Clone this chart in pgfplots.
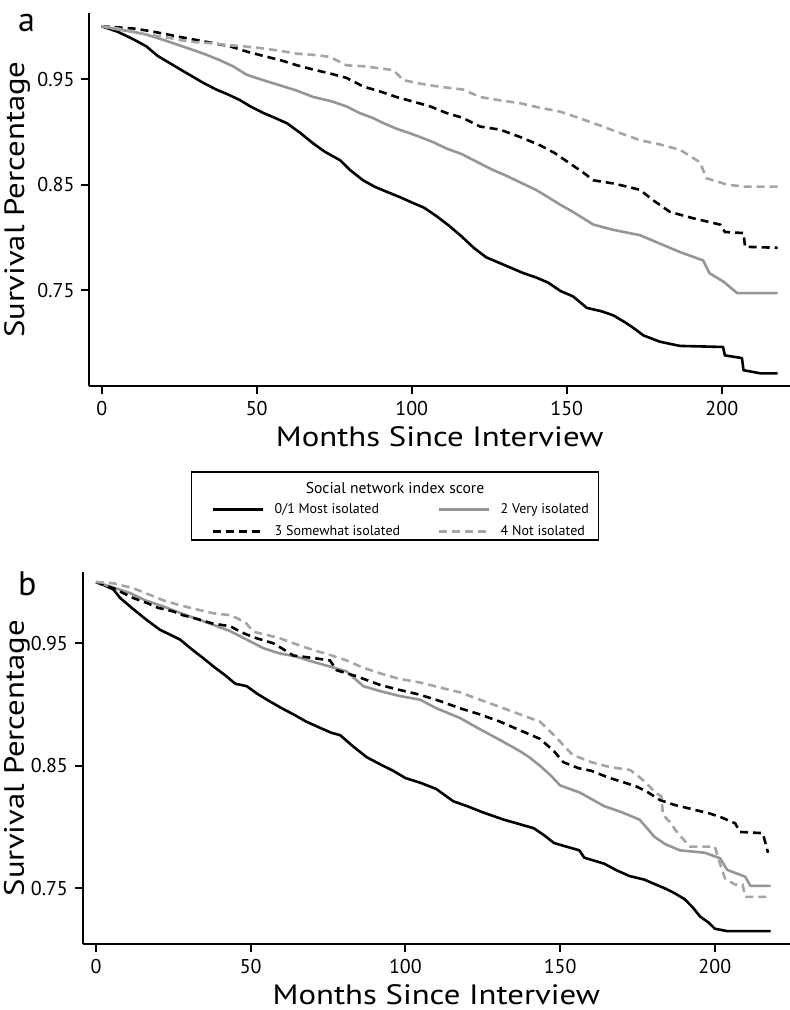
\documentclass[border=0pt]{standalone}
\usepackage{fontspec}
\setmainfont{PT Sans}
\newfontfamily\labfont[FakeStretch=1.17]{PT Sans}
\usepackage{pgfplots}
\pgfplotsset{compat=1.18}
\usepackage{pgfplotstable}

\definecolor{lgray}{RGB}{150,150,150}
\definecolor{dgray}{RGB}{165,165,165}

% ---------- Panel a ----------
\pgfplotstableread{
m v
0 1.000
5 0.995
10 0.988
14.4 0.981
18 0.972
22 0.965
26 0.958
29.5 0.952
33 0.946
37 0.940
41 0.935
44.6 0.930
48 0.924
52 0.918
56 0.913
59.8 0.908
64 0.899
68.2 0.889
72 0.881
76.9 0.873
80 0.864
84.3 0.854
88 0.848
92 0.843
96.2 0.838
100 0.833
104 0.828
108 0.820
112 0.811
116 0.801
120 0.790
124 0.781
128 0.776
132 0.771
136 0.766
140 0.762
144 0.757
148 0.749
152 0.744
156.5 0.733
161 0.730
165 0.726
169 0.719
172 0.713
174.7 0.707
180 0.701
186.5 0.697
200.4 0.696
201 0.688
206.5 0.6855
207 0.674
212.4 0.671
218 0.671
}\Aone

\pgfplotstableread{
m v
0 1.000
5 0.997
10 0.995
14.5 0.992
20 0.987
25 0.982
30 0.977
33.8 0.973
38 0.968
42.4 0.962
46.8 0.954
52 0.949
57.5 0.944
63 0.939
68.2 0.933
74 0.929
79 0.924
83 0.918
87.5 0.913
91 0.908
95 0.903
99 0.899
102.7 0.895
107 0.890
111.3 0.884
116 0.879
122 0.870
126 0.864
130 0.859
135 0.852
140 0.845
144 0.838
147.8 0.831
152 0.824
158.6 0.812
165 0.807
173.6 0.802
180 0.794
186.5 0.786
194 0.778
196 0.766
200.5 0.758
205 0.747
218 0.747
}\Atwo

\pgfplotstableread{
m v
0 1.000
5 0.999
10 0.998
14.5 0.996
20 0.993
25 0.990
30.6 0.987
36 0.984
41.4 0.981
46.8 0.976
52 0.972
57.5 0.968
63 0.963
68.2 0.959
74 0.955
79 0.951
84.3 0.943
90 0.938
95 0.933
100 0.929
106 0.924
111 0.918
116.6 0.913
122 0.905
128.5 0.902
135 0.895
141.5 0.887
146 0.880
150 0.872
155 0.862
158.6 0.854
165 0.851
169.4 0.848
173.6 0.845
177.9 0.835
183.3 0.824
190.8 0.818
199.5 0.812
201 0.805
207 0.804
207.5 0.791
218 0.790
}\Athree

\pgfplotstableread{
m v
0 1.000
5 0.998
9.2 0.995
15 0.992
20 0.990
25.2 0.987
30 0.985
35 0.984
41.4 0.982
46 0.981
52 0.979
57 0.977
62.9 0.974
68 0.973
73.6 0.971
79 0.963
85 0.962
90 0.960
94 0.9585
97.3 0.949
102 0.946
106 0.944
111 0.942
116.6 0.940
122 0.933
128 0.930
135 0.927
141 0.923
148 0.919
154 0.913
160.7 0.906
167 0.899
173.6 0.892
180 0.888
186.5 0.883
193 0.871
195 0.856
201.6 0.850
207 0.848
218 0.848
}\Afour

% ---------- Panel b ----------
\pgfplotstableread{
m v
0 1.000
3 0.997
5.6 0.994
7.8 0.987
12 0.978
16.4 0.969
20.7 0.961
24 0.957
27.2 0.953
31 0.945
34.6 0.938
38 0.931
42.2 0.923
45 0.917
48.7 0.915
52 0.909
55.2 0.904
60 0.897
63.8 0.892
68 0.886
72.4 0.881
76 0.877
78.9 0.875
83 0.866
87.5 0.857
92 0.851
96 0.846
100 0.840
105 0.836
110 0.831
115.5 0.821
120 0.817
125 0.812
131.8 0.806
136 0.803
141.5 0.799
145 0.793
148 0.787
152 0.784
156.2 0.781
157.8 0.775
164.3 0.770
168 0.765
172.4 0.760
177.3 0.757
180 0.754
183.8 0.750
187 0.746
190.3 0.741
193 0.734
195.2 0.727
198 0.722
200 0.717
204 0.715
218 0.715
}\Bone

\pgfplotstableread{
m v
0 1.000
5 0.996
11 0.991
16 0.985
21.8 0.980
27 0.975
32.5 0.970
38 0.965
43.3 0.960
48.7 0.953
54.1 0.946
59 0.942
64.9 0.939
70 0.935
75.6 0.931
81 0.927
86.4 0.915
91.8 0.911
98 0.907
104.7 0.904
110 0.897
117.6 0.889
124 0.880
130.6 0.871
137 0.862
140 0.857
143.5 0.850
147 0.842
150 0.834
156.5 0.828
160 0.823
164.3 0.817
170 0.812
175.7 0.806
180.5 0.792
184 0.786
188.7 0.781
196.8 0.779
201.7 0.7745
204 0.765
209.8 0.7595
211.5 0.752
218 0.752
}\Btwo

\pgfplotstableread{
m v
0 1.000
5.6 0.995
8.8 0.991
12 0.987
16.4 0.983
20 0.979
25 0.976
28 0.973
32.5 0.970
37.9 0.966
43.3 0.964
47 0.959
50.8 0.955
57.3 0.950
60 0.946
63.8 0.940
70.2 0.938
75.6 0.936
77.8 0.928
84.3 0.923
91.8 0.916
98 0.912
104.7 0.908
111 0.903
117.6 0.897
124 0.892
130.6 0.886
137 0.879
143.5 0.872
148 0.862
151 0.853
156 0.848
160 0.846
166 0.840
170 0.837
174.7 0.833
178 0.829
182.3 0.822
187 0.818
192 0.815
198.4 0.811
202 0.808
206.6 0.803
208.1 0.796
215.5 0.795
217.2 0.779
}\Bthree

\pgfplotstableread{
m v
0 1.000
5.6 0.999
12 0.995
17 0.990
21.8 0.985
27.2 0.981
32 0.978
37.9 0.9745
43.3 0.973
46 0.970
48.7 0.966
50.8 0.9595
55 0.957
59.5 0.954
65 0.949
70.2 0.9445
75 0.941
81 0.936
86.4 0.930
91.8 0.9255
98 0.921
104.7 0.918
111 0.914
117.6 0.910
124 0.904
130.6 0.898
137 0.892
143.5 0.886
148 0.875
151 0.867
154 0.859
160 0.853
166 0.849
172.6 0.8466
176 0.840
181.2 0.8275
182.8 0.8248
183.2 0.810
185.5 0.804
188 0.795
192 0.784
200 0.784
201.7 0.770
203.3 0.758
206.5 0.753
209 0.753
209.8 0.743
218 0.743
}\Bfour

\pgfplotsset{
  kmstyle/.style={
    scale only axis,
    axis x line=bottom, axis y line=left,
    axis line style={-, line width=1pt},
    major tick style={line width=1pt, black},
    major tick length=3.9pt,
    tick align=outside,
    xtick={0,50,100,150,200},
    ytick={0.75,0.85,0.95},
    yticklabels={0.75,0.85,0.95},
    /pgf/number format/assume math mode=true,
    tick label style={font=\fontsize{10}{12}\selectfont},
    label style={font=\labfont\fontsize{14}{16}\selectfont, inner sep=0pt},
    ylabel={Survival Percentage},
    xlabel={Months Since Interview},
    clip=false,
  },
  blk/.style={black, line width=1.3pt, line join=round},
  gry/.style={lgray, line width=1.3pt, line join=round},
  blkd/.style={black, line width=1.3pt, dash pattern=on 4pt off 2.5pt},
  gryd/.style={dgray, line width=1.3pt, dash pattern=on 4pt off 2.5pt},
}

\begin{document}
\begin{tikzpicture}
\path[use as bounding box] (0pt,0pt) rectangle (395pt,-505pt);

% Panel a
\begin{axis}[kmstyle,
  at={(44.65pt,-193pt)}, anchor=south west,
  width=350.35pt, height=186.5pt,
  xmin=-4, xmax=222, ymin=0.659, ymax=1.0126,
  xlabel style={at={(axis description cs:0.5,-0.161)}, anchor=base},
  ylabel style={at={(axis description cs:-0.103,0.5)}, anchor=center},
  legend columns=2,
  legend cell align=left,
  legend style={at={(axis description cs:0.1747,-0.302)}, anchor=north west,
    draw=none, fill=none, inner sep=0pt,
    font=\fontsize{7}{8}\selectfont, row sep=0.6pt,
    /tikz/every even column/.append style={column sep=17pt}},
  legend image code/.code={\draw[#1] (0pt,0pt) -- (25pt,0pt); \path (28pt,0pt);},
]
\addplot[blk] table[x=m,y=v] {\Aone};
\addlegendentry{0/1 Most isolated}
\addplot[gry] table[x=m,y=v] {\Atwo};
\addlegendentry{2 Very isolated}
\addplot[blkd] table[x=m,y=v] {\Athree};
\addlegendentry{3 Somewhat isolated}
\addplot[gryd] table[x=m,y=v] {\Afour};
\addlegendentry{4 Not isolated}
\end{axis}

% legend frame and title
\draw[line width=0.7pt] (95.75pt,-236pt) rectangle (299.25pt,-270pt);
\node[font=\fontsize{7.8}{9}\selectfont, anchor=center] at (197.5pt,-244pt) {Social network index score};

% Panel b
\begin{axis}[kmstyle,
  at={(41.35pt,-472pt)}, anchor=south west,
  width=353.65pt, height=186pt,
  xmin=-4.3, xmax=224.3, ymin=0.7045, ymax=1.0082,
  xlabel style={at={(axis description cs:0.5,-0.162)}, anchor=base},
  ylabel style={at={(axis description cs:-0.093,0.5)}, anchor=center},
]
\addplot[blk] table[x=m,y=v] {\Bone};
\addplot[gry] table[x=m,y=v] {\Btwo};
\addplot[blkd] table[x=m,y=v] {\Bthree};
\addplot[gryd] table[x=m,y=v] {\Bfour};
\end{axis}

\node[font=\fontsize{17}{20}\selectfont, anchor=base west] at (5.5pt,-16pt) {a};
\node[font=\fontsize{17}{20}\selectfont, anchor=base west] at (5.5pt,-297.5pt) {b};
\end{tikzpicture}
\end{document}
